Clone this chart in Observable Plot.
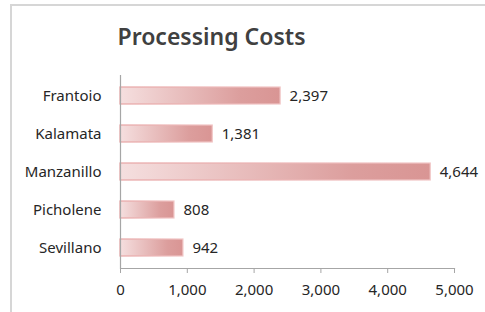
<!DOCTYPE html>
<html>
<head>
<meta charset="utf-8">
<script src="https://cdn.jsdelivr.net/npm/d3@7"></script>
<script src="https://cdn.jsdelivr.net/npm/@observablehq/plot@0.6"></script>
<style>
  html, body { margin: 0; padding: 0; background: #fff; }
  #wrap { position: relative; width: 485px; height: 312px; overflow: hidden; }
  #border { position: absolute; left: 10px; top: 4px; right: -5px; bottom: -5px;
            border-left: 2px solid #d6d6d6; border-top: 2px solid #d6d6d6; pointer-events: none; }
</style>
</head>
<body>
<div id="wrap"><div id="border"></div></div>
<script>
const title = "Processing Costs";
const varieties = ["Frantoio", "Kalamata", "Manzanillo", "Picholene", "Sevillano"];
const costs = [2397, 1381, 4644, 808, 942];
const xTicks = [0, 1000, 2000, 3000, 4000, 5000];

const data = varieties.map((v, i) => ({variety: v, cost: costs[i]}));
const fmt = d3.format(",");
const FS = 15;

const chart = Plot.plot({
  width: 485,
  height: 312,
  marginLeft: 120,
  marginRight: 31,
  marginTop: 75,
  marginBottom: 44,
  style: {fontFamily: "'Noto Sans', sans-serif", fontSize: "15px", color: "#262626", background: "transparent"},
  x: {domain: [0, 5000], ticks: xTicks},
  y: {domain: varieties, paddingInner: 0.56, paddingOuter: 0.28, label: null},
  marks: [
    Plot.barX(data, {y: "variety", x: "cost", fill: "url(#barGrad)", stroke: "url(#barStroke)", strokeWidth: 1.2}),
    Plot.ruleX([0], {stroke: "#a6a6a6", strokeWidth: 1.2}),
    Plot.frame({anchor: "bottom", stroke: "#a6a6a6", strokeWidth: 1.2}),
    Plot.axisX({ticks: xTicks, tickFormat: fmt, tickSize: 5, tickPadding: 11, stroke: "#a6a6a6", label: null, fill: "#262626", fontSize: FS}),
    Plot.axisY({tickSize: 0, tickPadding: 19, label: null, fill: "#262626", fontSize: FS}),
    Plot.text(data, {y: "variety", x: "cost", text: d => fmt(d.cost), textAnchor: "start", dx: 9, fill: "#262626", fontSize: FS}),
    Plot.text([title], {frameAnchor: "top-left", textAnchor: "start", lineAnchor: "middle", dx: -3, dy: -38, fontSize: 23, fontWeight: 600, fill: "#404040"})
  ]
});

const svg = d3.select(chart);
const defs = svg.insert("defs", ":first-child");
const g1 = defs.append("linearGradient").attr("id", "barGrad").attr("x1", "0").attr("x2", "1").attr("y1", "0").attr("y2", "0");
g1.append("stop").attr("offset", "0").attr("stop-color", "#f5dfdf");
g1.append("stop").attr("offset", "0.75").attr("stop-color", "#dc9e9d");
g1.append("stop").attr("offset", "1").attr("stop-color", "#d99594");
const g2 = defs.append("linearGradient").attr("id", "barStroke").attr("x1", "0").attr("x2", "1").attr("y1", "0").attr("y2", "0");
g2.append("stop").attr("offset", "0").attr("stop-color", "#e7a3a3");
g2.append("stop").attr("offset", "1").attr("stop-color", "#f1c6c6");

document.getElementById("wrap").prepend(chart);
</script>
</body>
</html>
